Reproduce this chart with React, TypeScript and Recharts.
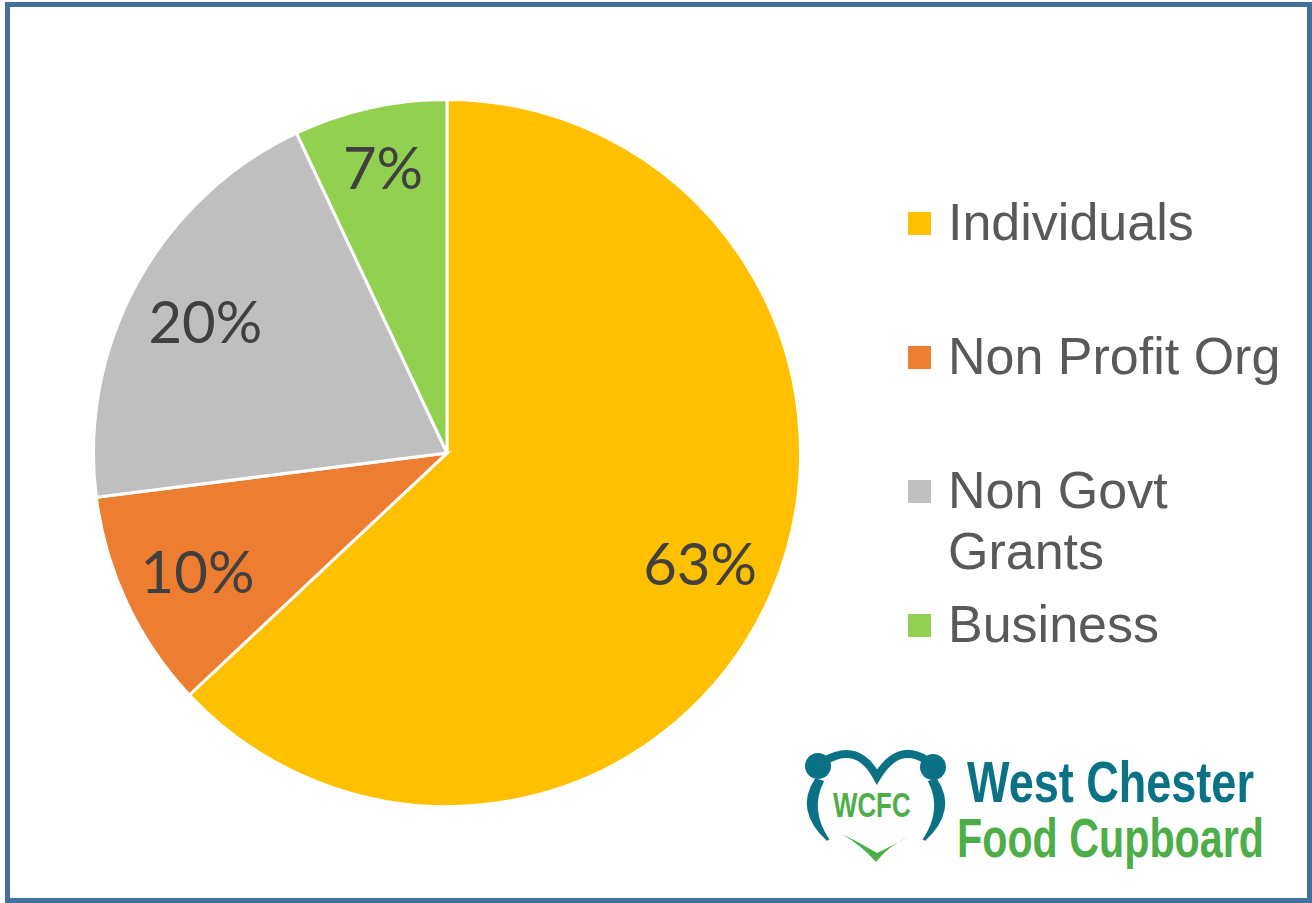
import React from "react";
import { PieChart, Pie, Cell, Legend } from "recharts";

const CATEGORIES = ["Individuals", "Non Profit Org", "Non Govt Grants", "Business"];
const SHARES = [63, 10, 20, 7];
const COLORS = ["#FFC000", "#ED7D31", "#BFBFBF", "#92D050"];

const data = CATEGORIES.map((name, i) => ({ name, value: SHARES[i] }));

const RAD = Math.PI / 180;

function SliceLabel(props: any) {
  const { cx, cy, midAngle, outerRadius, percent } = props;
  // small slices get pushed a bit further out, like Excel's best fit
  const r = outerRadius * (percent < 0.09 ? 0.83 : 0.78);
  const x = cx + r * Math.cos(-midAngle * RAD);
  const y = cy + r * Math.sin(-midAngle * RAD);
  return (
    <text
      x={x}
      y={y}
      fill="#404040"
      fontFamily="Lato, 'Open Sans', sans-serif"
      fontSize={58}
      textAnchor="middle"
      dominantBaseline="central"
    >
      {`${Math.round(percent * 100)}%`}
    </text>
  );
}

function LegendBox({ payload }: any) {
  // keep the series order instead of recharts' alphabetical one
  const items = [...(payload || [])].sort(
    (a: any, b: any) => CATEGORIES.indexOf(a.value) - CATEGORIES.indexOf(b.value)
  );
  return (
    <div style={{ position: "relative", width: 400, height: 480 }}>
      {items.map((entry: any, i: number) => (
        <div
          key={entry.value}
          style={{ position: "absolute", left: 0, top: i * 134, display: "flex", alignItems: "flex-start" }}
        >
          <span
            style={{ width: 23, height: 23, background: entry.color, marginTop: 20, flex: "none" }}
          />
          <span
            style={{
              marginLeft: 17,
              width: 350,
              fontFamily: "'Liberation Sans', Arial, sans-serif",
              fontSize: 52,
              lineHeight: "61px",
              color: "#595959",
            }}
          >
            {entry.value}
          </span>
        </div>
      ))}
    </div>
  );
}

// squeezed bold text, the logo face is much narrower than Arial
function LogoText({ x, y, size, sx, fill, children }: any) {
  return (
    <g transform={`translate(${x},${y}) scale(${sx},1)`}>
      <text
        x={0}
        y={0}
        fill={fill}
        fontFamily="'Liberation Sans', Arial, sans-serif"
        fontWeight="bold"
        fontSize={size}
      >
        {children}
      </text>
    </g>
  );
}

function Logo() {
  const teal = "#0B7285";
  const green = "#4DAE48";
  return (
    <g>
      {/* heart made of two figures */}
      <circle cx={818} cy={766} r={13} fill={teal} />
      <circle cx={933} cy={767} r={13} fill={teal} />
      <path d="M 826 760 Q 858 742 877 777 Q 898 742 926 760" fill="none" stroke={teal} strokeWidth={8} />
      <path d="M 816 780 Q 796 810 828 840 Q 808 810 822 782 Z" fill={teal} stroke={teal} strokeWidth={3} />
      <path d="M 936 780 Q 956 810 924 840 Q 944 810 930 782 Z" fill={teal} stroke={teal} strokeWidth={3} />
      <path d="M 842 834 Q 862 846 876 862 Q 888 846 910 836 Q 892 846 877 853 Q 862 844 842 834 Z" fill={green} />
      <LogoText x={833} y={817} size={35} sx={0.74} fill={green}>
        WCFC
      </LogoText>
      <LogoText x={967} y={802} size={57} sx={0.79} fill={teal}>
        West Chester
      </LogoText>
      <LogoText x={957} y={857} size={55} sx={0.75} fill={green}>
        Food Cupboard
      </LogoText>
    </g>
  );
}

export default function App() {
  return (
    <div style={{ position: "absolute", left: 0, top: 0, width: 1312, height: 903, background: "#fff" }}>
      <PieChart width={1312} height={903} margin={{ top: 0, right: 0, bottom: 0, left: 0 }}>
        <Pie
          data={data}
          dataKey="value"
          nameKey="name"
          cx={447}
          cy={453}
          outerRadius={353.5}
          startAngle={90}
          endAngle={-270}
          stroke="#fff"
          strokeWidth={3}
          label={SliceLabel}
          labelLine={false}
          isAnimationActive={false}
        >
          {data.map((_, i) => (
            <Cell key={i} fill={COLORS[i]} />
          ))}
        </Pie>
        <Legend
          layout="vertical"
          align="right"
          verticalAlign="top"
          content={LegendBox}
          wrapperStyle={{ position: "absolute", left: 908, top: 192, width: 400 }}
        />
      </PieChart>
      <svg
        width={1312}
        height={903}
        style={{ position: "absolute", left: 0, top: 0, pointerEvents: "none" }}
      >
        <rect x={7.5} y={4.5} width={1302} height={896} fill="none" stroke="#41719C" strokeWidth={5} />
        <Logo />
      </svg>
    </div>
  );
}
